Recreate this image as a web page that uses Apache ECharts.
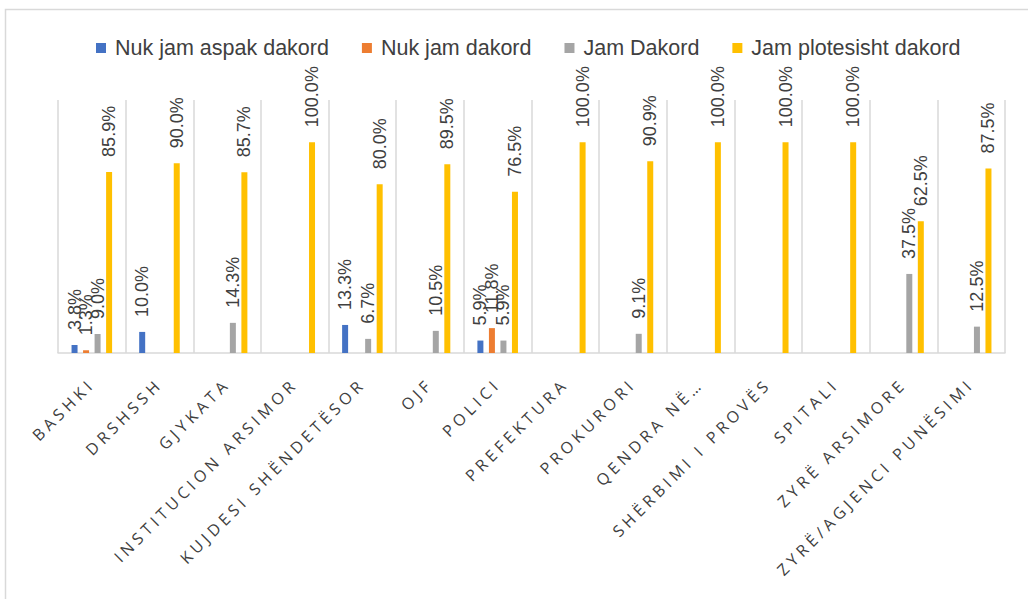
<!DOCTYPE html>
<html>
<head>
<meta charset="utf-8">
<script src="https://cdn.jsdelivr.net/npm/echarts@6/dist/echarts.min.js"></script>
<style>
html, body { margin: 0; padding: 0; background: #fff; }
#chart { width: 1028px; height: 599px; }
</style>
</head>
<body>
<div id="chart"></div>
<script>
//kategorite
var categories = ['BASHKI', 'DRSHSSH', 'GJYKATA', 'INSTITUCION ARSIMOR', 'KUJDESI SHËNDETËSOR', 'OJF', 'POLICI',
	'PREFEKTURA', 'PROKURORI', 'QENDRA NË…', 'SHËRBIMI I PROVËS', 'SPITALI', 'ZYRË ARSIMORE', 'ZYRË/AGJENCI PUNËSIMI'];
//seri (%)
var nukAspak = [3.8, 10.0, null, null, 13.3, null, 5.9, null, null, null, null, null, null, null];
var nukDakord = [1.3, null, null, null, null, null, 11.8, null, null, null, null, null, null, null];
var jamDakord = [9.0, null, 14.3, null, 6.7, 10.5, 5.9, null, 9.1, null, null, null, 37.5, 12.5];
var plotesisht = [85.9, 90.0, 85.7, 100.0, 80.0, 89.5, 76.5, 100.0, 90.9, 100.0, 100.0, 100.0, 62.5, 87.5];

var seriesNames = ['Nuk jam aspak dakord', 'Nuk jam dakord', 'Jam Dakord', 'Jam plotesisht dakord'];
var seriesColors = ['#4472C4', '#ED7D31', '#A5A5A5', '#FFC000'];
var seriesData = [nukAspak, nukDakord, jamDakord, plotesisht];

var chartDom = document.getElementById('chart');
var chart = echarts.init(chartDom, null, { renderer: 'svg' });

var series = [];
for(var i = 0; i < seriesData.length; i++) {
	series.push({
		name: seriesNames[i],
		type: 'bar',
		data: seriesData[i],
		barWidth: 6,
		barGap: '92%',
		itemStyle: {
			color: seriesColors[i]
		},
		label: {
			show: true,
			position: 'top',
			rotate: 90,
			align: 'left',
			verticalAlign: 'middle',
			distance: 15,
			fontFamily: 'Liberation Sans',
			fontSize: 18,
			color: '#404040',
			formatter: function(p) {
				return p.value.toFixed(1) + '%';
			}
		}
	});
}

//hapesire mes shkronjave per etiketat e boshtit X
var spaceAxisLabels = function() {
	var texts = chartDom.querySelectorAll('text');
	for(var k = 0; k < texts.length; k++) {
		if(categories.indexOf(texts[k].textContent) >= 0) {
			texts[k].setAttribute('letter-spacing', '4.2');
			texts[k].style.letterSpacing = '4.2px';
		}
	}
};
chart.on('finished', spaceAxisLabels);

chart.setOption({
	animation: false,
	backgroundColor: '#fff',
	graphic: [{
		type: 'rect',
		shape: { x: 5.5, y: 9.5, width: 1100, height: 700 },
		style: { fill: 'none', stroke: '#d9d9d9', lineWidth: 1.5 },
		silent: true
	}],
	legend: {
		top: 32,
		left: 91,
		itemWidth: 10,
		itemHeight: 10,
		itemGap: 33,
		icon: 'rect',
		textStyle: {
			fontFamily: 'Liberation Sans',
			fontSize: 21.5,
			padding: [0, 0, 0, 4],
			color: '#404040'
		},
		data: seriesNames
	},
	grid: {
		left: 58,
		right: 23,
		top: 100,
		bottom: 246
	},
	xAxis: {
		type: 'category',
		data: categories,
		axisTick: { show: false },
		axisLine: {
			lineStyle: { color: '#d9d9d9', width: 1.5 }
		},
		splitLine: {
			show: true,
			lineStyle: { color: '#d9d9d9', width: 1.5 }
		},
		axisLabel: {
			interval: 0,
			rotate: 45,
			margin: 28,
			fontFamily: 'Open Sans',
			fontSize: 16,
			color: '#404040'
		}
	},
	yAxis: {
		type: 'value',
		min: 0,
		max: 120,
		show: false,
		splitLine: { show: false }
	},
	series: series
});
spaceAxisLabels();
setTimeout(spaceAxisLabels, 50);
</script>
</body>
</html>
